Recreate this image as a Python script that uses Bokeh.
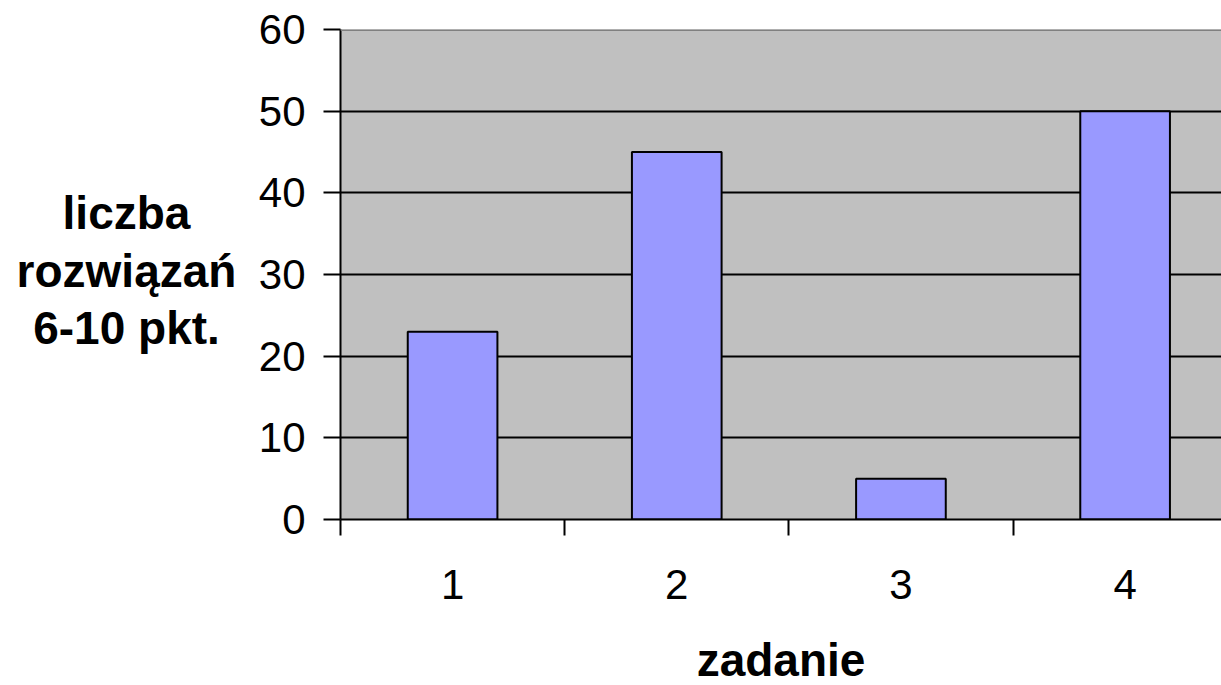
from bokeh.plotting import figure
from bokeh.layouts import row
from bokeh.models import Range1d, FixedTicker, Span, ColumnDataSource
from bokeh.core.properties import value
from bokeh.embed import file_html
from bokeh.resources import INLINE

categories = ["1", "2", "3", "4"]
positions = [1, 2, 3, 4]
values = [23, 45, 5, 50]
y_ticks = [0, 10, 20, 30, 40, 50, 60]
ylabel_lines = ["liczba", "rozwiązań", "6-10 pkt."]
xlabel = "zadanie"

FONT = "Liberation Sans"
LEFT_W = 250      # width of the panel holding the y title (px)
PAGE_H = 685

# ---- left panel: y-axis title, three centred lines (pixel coordinates) ----
title_x = [126, 126, 126]
title_y = [183, 241, 298]
t = figure(frame_width=LEFT_W, frame_height=PAGE_H, output_backend="svg", toolbar_location=None,
           x_range=Range1d(0, LEFT_W), y_range=Range1d(PAGE_H, 0),
           x_axis_type=None, y_axis_type=None, min_border=0)
t.grid.visible = False
t.outline_line_color = None
t.background_fill_color = "white"
t.border_fill_color = "white"
t.text(x=title_x, y=title_y, text=ylabel_lines, text_align="center", text_baseline="alphabetic",
       text_font=value(FONT), text_font_size="46px", text_font_style="bold", text_color="black")

# ---- main chart ----
p = figure(frame_width=881, frame_height=490, output_backend="svg", toolbar_location=None,
           x_range=Range1d(0.5, 4.43), y_range=Range1d(0, 60),
           min_border_left=340 - LEFT_W, min_border_right=0, min_border_top=29, min_border_bottom=0)
p.background_fill_color = "#C0C0C0"
p.border_fill_color = "white"
p.outline_line_color = None

src = ColumnDataSource(dict(x=positions, top=values))
p.vbar(x="x", top="top", width=0.4, source=src, fill_color="#9999FF",
       line_color="black", line_width=2)

# top border of plot area
p.add_layout(Span(location=60, dimension="width", line_color="#808080", line_width=3))

# grid
p.xgrid.visible = False
p.ygrid.ticker = FixedTicker(ticks=y_ticks[1:-1])
p.ygrid.grid_line_color = "black"
p.ygrid.grid_line_width = 2

# y axis
ya = p.yaxis[0]
ya.ticker = FixedTicker(ticks=y_ticks)
ya.axis_line_color = "black"
ya.axis_line_width = 2
ya.major_tick_out = 17
ya.major_tick_in = 0
ya.major_tick_line_width = 2
ya.minor_tick_line_color = None
ya.major_label_text_font = FONT
ya.major_label_text_font_size = "42px"
ya.major_label_text_color = "black"
ya.major_label_standoff = 18

# x axis
xa = p.xaxis[0]
xa.ticker = FixedTicker(ticks=positions, minor_ticks=[0.5, 1.5, 2.5, 3.5, 4.5])
xa.major_label_overrides = {pos: c for pos, c in zip(positions, categories)}
xa.axis_line_color = "black"
xa.axis_line_width = 2
xa.major_tick_out = 0
xa.major_tick_in = 0
xa.major_tick_line_color = None
xa.minor_tick_out = 16
xa.minor_tick_in = 0
xa.minor_tick_line_width = 2
xa.minor_tick_line_color = "black"
xa.major_label_text_font = FONT
xa.major_label_text_font_size = "42px"
xa.major_label_text_color = "black"
xa.major_label_standoff = 34
xa.axis_label = xlabel
xa.axis_label_text_font = FONT
xa.axis_label_text_font_size = "46px"
xa.axis_label_text_font_style = "bold"
xa.axis_label_text_color = "black"
xa.axis_label_standoff = 32

layout = row(t, p, spacing=0)
open("out.html", "w").write(file_html(layout, INLINE))
